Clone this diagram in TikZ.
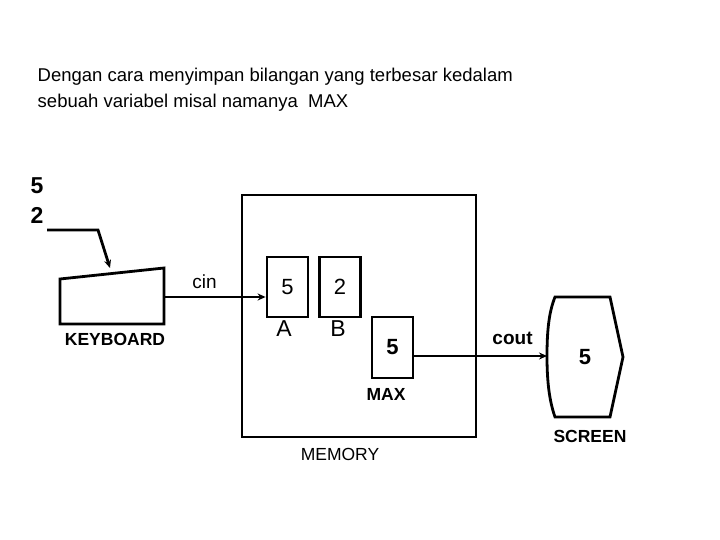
\documentclass[tikz,border=0pt]{standalone}
\usepackage{fontspec}
\setmainfont{Liberation Sans}
\usetikzlibrary{arrows.meta}

\begin{document}
\begin{tikzpicture}[
    x = 1pt, y = -1pt, % pixel-like units
    > = {Stealth[length=8pt,width=7pt]}, % arrow head style
    line width = 2.8pt,
    line join = miter
    ]

    \tikzset{
    cell/.style = {draw, minimum width = 41pt, minimum height = 60pt, font = \fontsize{22}{24}\selectfont},
    tag/.style = {font = \fontsize{17.5}{20}\selectfont\bfseries},
    big/.style = {font = \fontsize{23}{26}\selectfont}
    }
    \useasboundingbox (0,0) rectangle (720,540);

    \node[anchor = west, align = left, font = \fontsize{18.5}{26}\selectfont] (title) at (33,90)
        {Dengan cara menyimpan bilangan yang terbesar kedalam\\sebuah variabel misal namanya\ \ MAX};

    \node[font = \fontsize{23}{26}\selectfont\bfseries] (n5) at (37,186) {5};
    \node[font = \fontsize{23}{26}\selectfont\bfseries] (n2) at (37,215) {2};

    % keyboard
    \draw (60,279) -- (164,268) -- (164,324) -- (60,324) -- cycle;
    \coordinate (kbout) at (164,297);
    \coordinate (kbin) at (110,268);
    \coordinate (feed) at (47,230);
    \node[tag] (kbl) at (115,339) {KEYBOARD};

    % memory
    \draw (242,195) rectangle (476,437);
    \node[font = \fontsize{17.5}{20}\selectfont] (mem) at (340,454) {MEMORY};
    \node[cell] (a) at (287.5,287) {5};
    \node[cell] (b) at (340,287) {2};
    \node[big] (al) at (284,329) {A};
    \node[big] (bl) at (338,329) {B};
    \node[cell, minimum height = 61pt, font = \fontsize{22}{24}\selectfont\bfseries] (max) at (392.5,347.5) {5};
    \node[tag] (maxl) at (386,394) {MAX};

    % screen
    \draw (555,297) -- (610,297) -- (623,357) -- (610,417) -- (555,417)
        .. controls (549,400) and (547,380) .. (547,356)
        .. controls (547,330) and (549,312) .. (555,297) -- cycle;
    \coordinate (scr) at (547,356);
    \node[font = \fontsize{22}{24}\selectfont\bfseries] (s5) at (585,357) {5};
    \node[tag] (scrl) at (590,436) {SCREEN};

    \draw[->] (feed) -- (98,230) -- (kbin);
    \draw[->] (kbout) -- node[above = 4pt, pos = 0.4, font = \fontsize{19}{21}\selectfont] {cin} (a.west |- kbout);
    \draw[->] (max.east |- scr) -- node[above = 7pt, pos = 0.74, font = \fontsize{19}{21}\selectfont\bfseries] {cout} (scr);
\end{tikzpicture}
\end{document}
